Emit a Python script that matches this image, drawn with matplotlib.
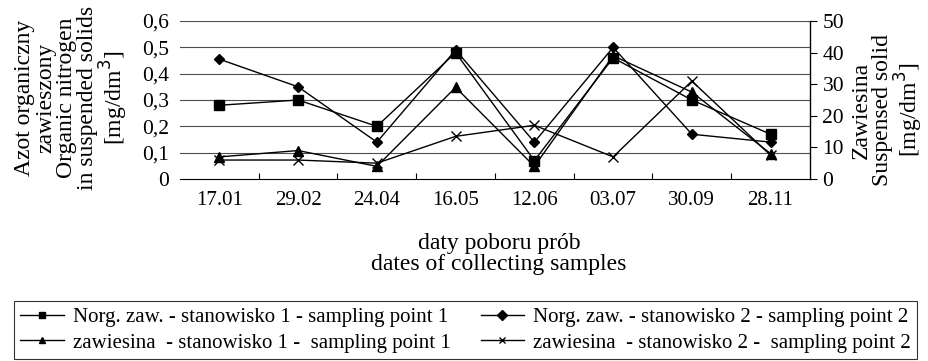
import numpy as np
import matplotlib.pyplot as plt
from matplotlib.ticker import FixedLocator

plt.rcParams['font.family'] = ['Liberation Serif', 'DejaVu Serif']

# sampling dates
dates = ["17.01", "29.02", "24.04", "16.05", "12.06", "03.07", "30.09", "28.11"]

# organic nitrogen in suspended solids [mg/dm3]
norg_st1 = [0.28, 0.30, 0.20, 0.48, 0.07, 0.46, 0.30, 0.17]
norg_st2 = [0.455, 0.35, 0.14, 0.49, 0.14, 0.50, 0.17, 0.14]

# suspended solids [mg/dm3]
zaw_st1 = [7.0, 9.0, 4.0, 29.0, 4.0, 39.0, 27.5, 8.0]
zaw_st2 = [6.0, 6.0, 5.0, 13.5, 17.0, 7.0, 31.0, 7.5]

x = np.arange(len(dates))

fig = plt.figure(figsize=(9.29, 3.61), dpi=100)
ax = fig.add_axes([180/929, 1-179/361, 630/929, 158/361])
ax2 = ax.twinx()

l1, = ax.plot(x, norg_st1, color='black', lw=1, marker='s', ms=6.5, mfc='black')
l2, = ax.plot(x, norg_st2, color='black', lw=1, marker='D', ms=5, mfc='black')
l3, = ax2.plot(x, zaw_st1, color='black', lw=1, marker='^', ms=7, mfc='black')
l4, = ax2.plot(x, zaw_st2, color='black', lw=1, marker='x', ms=7, mew=1)

# left axis
ax.set_xlim(-0.5, len(dates)-0.5)
ax.set_ylim(0, 0.6)
ax.set_yticks(np.arange(0, 0.61, 0.1))
ax.set_yticklabels(["0", "0,1", "0,2", "0,3", "0,4", "0,5", "0,6"], fontsize=15.5)
ax.tick_params(axis='y', length=0, pad=8)
for yv in np.arange(0.1, 0.61, 0.1):
    ax.axhline(yv, color='0.3', lw=0.8, zorder=0)
ax.set_xticks(x)
ax.set_xticklabels(dates, fontsize=15)
ax.tick_params(axis='x', which='major', length=0, pad=9)
ax.xaxis.set_minor_locator(FixedLocator(np.arange(0.5, len(dates)-1, 1)))
ax.tick_params(axis='x', which='minor', direction='in', length=4, width=0.8)
for s in ['left', 'top', 'right']:
    ax.spines[s].set_visible(False)
ax.spines['bottom'].set_linewidth(0.8)

# right axis
ax2.set_ylim(0, 50)
ax2.set_yticks(np.arange(0, 51, 10))
ax2.tick_params(axis='y', labelsize=15.5, direction='out', length=5, width=0.8, pad=4)
for s in ['left', 'top', 'bottom']:
    ax2.spines[s].set_visible(False)
ax2.spines['right'].set_linewidth(1)

# axis titles
fig.text(72/929, 1-98/361,
         "Azot organiczny\nzawieszony\nOrganic nitrogen\nin suspended solids\n[mg/dm$^3$]",
         rotation=90, ha='center', va='center', fontsize=17, linespacing=1.0)
fig.text(888/929, 1-110/361, "Zawiesina\nSuspensed solid\n[mg/dm$^3$]",
         rotation=90, ha='center', va='center', fontsize=17, linespacing=1.0)
fig.text(499/929, 1-254/361, "daty poboru prób\ndates of collecting samples",
         ha='center', va='center', fontsize=17, linespacing=1.0)

leg = fig.legend([l1, l3, l2, l4],
                 ["Norg. zaw. - stanowisko 1 - sampling point 1",
                  "zawiesina  - stanowisko 1 -  sampling point 1",
                  "Norg. zaw. - stanowisko 2 - sampling point 2",
                  "zawiesina  - stanowisko 2 -  sampling point 2"],
                 ncol=2, loc='center', bbox_to_anchor=(465.5/929, 1-330/361),
                 fontsize=15, frameon=True, fancybox=False, borderaxespad=0,
                 handlelength=2.1, handletextpad=0.43, labelspacing=0.3,
                 columnspacing=1.45, borderpad=0.3)
leg.get_frame().set_edgecolor('black')
leg.get_frame().set_linewidth(0.8)
for h in leg.legend_handles:
    h.set_markersize(5)

fig.savefig("out.png", dpi=100)
